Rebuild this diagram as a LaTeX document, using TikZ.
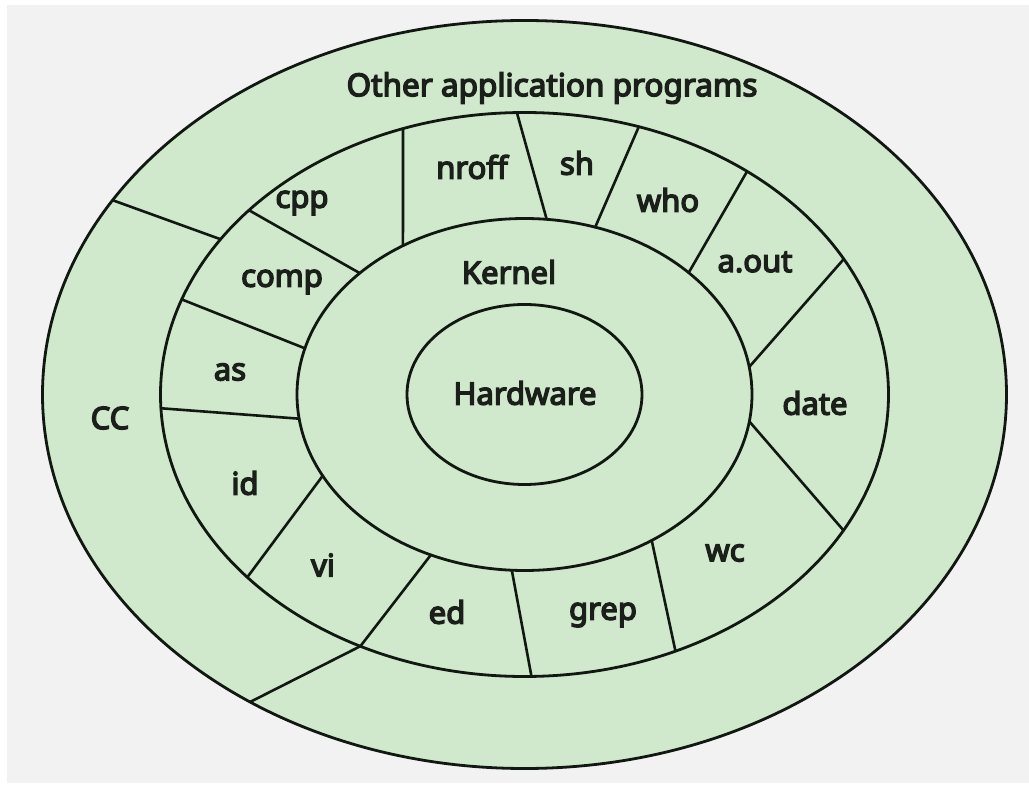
\documentclass[tikz,border=0pt]{standalone}
\usepackage{fontspec}
\usetikzlibrary{calc}
\newfontfamily\lblfont{Noto Sans}[FakeBold=4.5]
\definecolor{bgc}{HTML}{F2F2F2}
\definecolor{greenc}{HTML}{D0E8CC}
\definecolor{linec}{HTML}{111811}
\definecolor{txtc}{HTML}{1A1F1A}
\begin{document}
\begin{tikzpicture}[x=1pt,y=-1pt,
  ring/.style={draw=linec, line width=2.8pt},
  sep/.style={draw=linec, line width=2.6pt, line cap=round},
  lbl/.style={font=\lblfont\fontsize{31}{36}\selectfont, text=txtc, inner sep=0pt},
  title/.style={font=\lblfont\fontsize{31.5}{38}\selectfont, text=txtc, inner sep=0pt}]
\fill[white] (0,0) rectangle (1029,791);
\fill[bgc] (7,5) rectangle (1029,783);
\useasboundingbox (0,0) rectangle (1029,791);
\coordinate (C) at (524.5,394.5);
% ellipses
\path[ring, fill=greenc] (C) ellipse [x radius=482pt, y radius=374pt];
% points on kernel ellipse (k), middle ellipse (m), outer ellipse (o)
\coordinate (m1) at ($(C)+(-109.5:364 and 282)$);
\coordinate (k1) at ($(C)+(-122.3:227.5 and 176)$);
\coordinate (m2) at ($(C)+(-91.2:364 and 282)$);
\coordinate (k2) at ($(C)+(-84.4:227.5 and 176)$);
\coordinate (m3) at ($(C)+(-71.7:364 and 282)$);
\coordinate (k3) at ($(C)+(-71.9:227.5 and 176)$);
\coordinate (m4) at ($(C)+(-52.3:364 and 282)$);
\coordinate (k4) at ($(C)+(-43.8:227.5 and 176)$);
\coordinate (m5) at ($(C)+(-28.7:364 and 282)$);
\coordinate (k5) at ($(C)+(-9.0:227.5 and 176)$);
\coordinate (m6) at ($(C)+(28.8:364 and 282)$);
\coordinate (k6) at ($(C)+(8.8:227.5 and 176)$);
\coordinate (m7) at ($(C)+(65.5:364 and 282)$);
\coordinate (k7) at ($(C)+(56.0:227.5 and 176)$);
\coordinate (m8) at ($(C)+(88.9:364 and 282)$);
\coordinate (k8) at ($(C)+(93.2:227.5 and 176)$);
\coordinate (m9) at ($(C)+(116.8:364 and 282)$);
\coordinate (k9) at ($(C)+(114.3:227.5 and 176)$);
\coordinate (m10) at ($(C)+(139.6:364 and 282)$);
\coordinate (k10) at ($(C)+(152.5:227.5 and 176)$);
\coordinate (m11) at ($(C)+(177.2:364 and 282)$);
\coordinate (k11) at ($(C)+(172.1:227.5 and 176)$);
\coordinate (m12) at ($(C)+(199.7:364 and 282)$);
\coordinate (k12) at ($(C)+(195.2:227.5 and 176)$);
\coordinate (m13) at ($(C)+(220.8:364 and 282)$);
\coordinate (k13) at ($(C)+(223.6:227.5 and 176)$);
\coordinate (oA) at ($(C)+(211.3:482 and 374)$);
\coordinate (mA) at ($(C)+(213.4:364 and 282)$);
\coordinate (oB) at ($(C)+(124.7:482 and 374)$);
% separators
\foreach \i in {1,...,13} {\draw[sep] (k\i) -- (m\i);}
\draw[sep] (oA) -- (mA);
\draw[sep] (oB) -- (m9);
\path[ring] (C) ellipse [x radius=364pt, y radius=282pt];
\path[ring] (C) ellipse [x radius=227.5pt, y radius=176pt];
\path[ring] (C) ellipse [x radius=117.5pt, y radius=90pt];
% labels
\node[title] (other) at (552,88) {Other application programs};
\node[lbl] (cc) at (110,418) {CC};
\node[lbl] (cpp) at (302,203) {cpp};
\node[lbl] (nroff) at (472,167) {nroff};
\node[lbl] (sh) at (577,163) {sh};
\node[lbl] (who) at (668,200) {who};
\node[lbl] (aout) at (755,262) {a.out};
\node[lbl] (date) at (815,403) {date};
\node[lbl] (wc) at (725,553) {wc};
\node[lbl] (grep) at (603,615) {grep};
\node[lbl] (ed) at (447,612) {ed};
\node[lbl] (vi) at (323,565) {vi};
\node[lbl] (id) at (245,483) {id};
\node[lbl] (as) at (230,372) {as};
\node[lbl] (comp) at (282,282) {comp};
\node[lbl] (kernel) at (509,272) {Kernel};
\node[lbl] (hw) at (525,393) {Hardware};
\end{tikzpicture}
\end{document}
